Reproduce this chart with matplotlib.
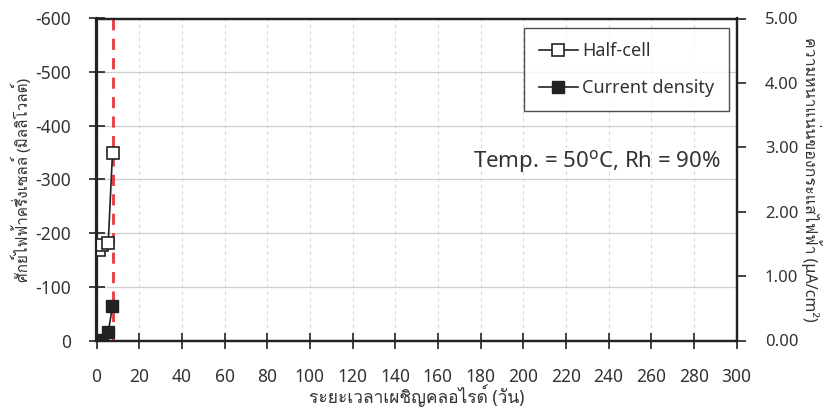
import matplotlib
matplotlib.use("Agg")
import matplotlib.pyplot as plt
from matplotlib import font_manager
from fontTools.ttLib import TTFont

# exposure time (days) and readings
days = [1.2, 2.8, 5.5, 7.5]
half_cell = [-169, -178, -182, -350]          # mV
current_density = [0.0, 0.01, 0.13, 0.53]     # uA/cm2
marker_day = 7.5

x_ticks = list(range(0, 301, 20))
left_ticks = list(range(0, -601, -100))
right_ticks = [0, 1, 2, 3, 4, 5]


def _thai_family():
    # pick any installed face that actually carries Thai glyphs
    for f in font_manager.fontManager.ttflist:
        try:
            tt = TTFont(f.fname, fontNumber=0, lazy=True)
            cmap = tt.getBestCmap()
            if cmap and 0x0E01 in cmap and 0x0E34 in cmap:
                return f.name
        except Exception:
            continue
    return None


thai = _thai_family()
families = ["Noto Sans"] + ([thai] if thai else []) + ["DejaVu Sans"]
plt.rcParams["font.family"] = families

ink = "#222222"
txt = "#333333"

fig = plt.figure(figsize=(8.27, 4.09), dpi=100)
ax = fig.add_axes([96.5 / 827, 1 - 340.5 / 409, (736.5 - 96.5) / 827, (340.5 - 18.5) / 409])

ax.set_xlim(0, 300)
ax.set_ylim(0, -600)
ax.set_xticks(x_ticks)
ax.set_yticks(left_ticks)
ax.set_yticklabels([str(v) for v in left_ticks])

ax.grid(axis="y", color="#cfcfcf", lw=0.9, ls="-")
ax.grid(axis="x", color="#d8d8d8", lw=0.8, ls=(0, (3, 3)))
ax.set_axisbelow(True)

for s in ax.spines.values():
    s.set_color(ink)
    s.set_linewidth(1.6)

ax.tick_params(axis="both", direction="inout", length=11, width=1.2, colors=ink,
               labelsize=12.5, labelcolor=txt)
ax.tick_params(axis="x", pad=14)
ax.tick_params(axis="y", pad=13)

ax.plot(days, half_cell, color=ink, lw=1.2, marker="s", ms=8,
        mfc="white", mec=ink, mew=1.2, label="Half-cell", zorder=4)

ax.axvline(marker_day, color="#e8383d", lw=2, ls=(0, (4, 3)), zorder=3)

ax2 = ax.twinx()
ax2.set_ylim(0, 5)
ax2.set_yticks(right_ticks)
ax2.set_yticklabels([f"{v:.2f}" for v in right_ticks])
ax2.tick_params(axis="y", direction="out", length=6.5, width=1.2, colors=ink,
                labelsize=12, labelcolor=txt, pad=14)
for s in ax2.spines.values():
    s.set_color(ink)
    s.set_linewidth(1.6)
ax2.plot(days, current_density, color=ink, lw=1.2, marker="s", ms=8,
         mfc=ink, mec=ink, label="Current density", zorder=4)

h1, l1 = ax.get_legend_handles_labels()
h2, l2 = ax2.get_legend_handles_labels()
leg = ax2.legend(h1 + h2, l1 + l2, loc="upper right", bbox_to_anchor=(0.9875, 0.972),
                 borderaxespad=0, fontsize=13, frameon=True, fancybox=False,
                 borderpad=0.8, labelspacing=1.05, handlelength=2.2, handletextpad=0.2)
leg.get_frame().set_edgecolor(ink)
leg.get_frame().set_linewidth(1.0)
for t in leg.get_texts():
    t.set_color(txt)

ax.text(0.975, 0.555, r"Temp. = 50$^{\mathrm{o}}$C, Rh = 90%", transform=ax.transAxes,
        ha="right", va="center", fontsize=16, color=txt)

ax.set_xlabel("ระยะเวลาเผชิญคลอไรด์ (วัน)", fontsize=12.5, color=txt, labelpad=-1)
ax.set_ylabel("ศักย์ไฟฟ้าครึ่งเซลล์ (มิลลิโวลต์)", fontsize=11, color=txt, labelpad=2)
ax2.set_ylabel("ความหนาแน่นของกระแสไฟฟ้า (μA/cm²)", fontsize=11.5, color=txt,
               rotation=-90, labelpad=17)

fig.savefig("out.png", dpi=100)
